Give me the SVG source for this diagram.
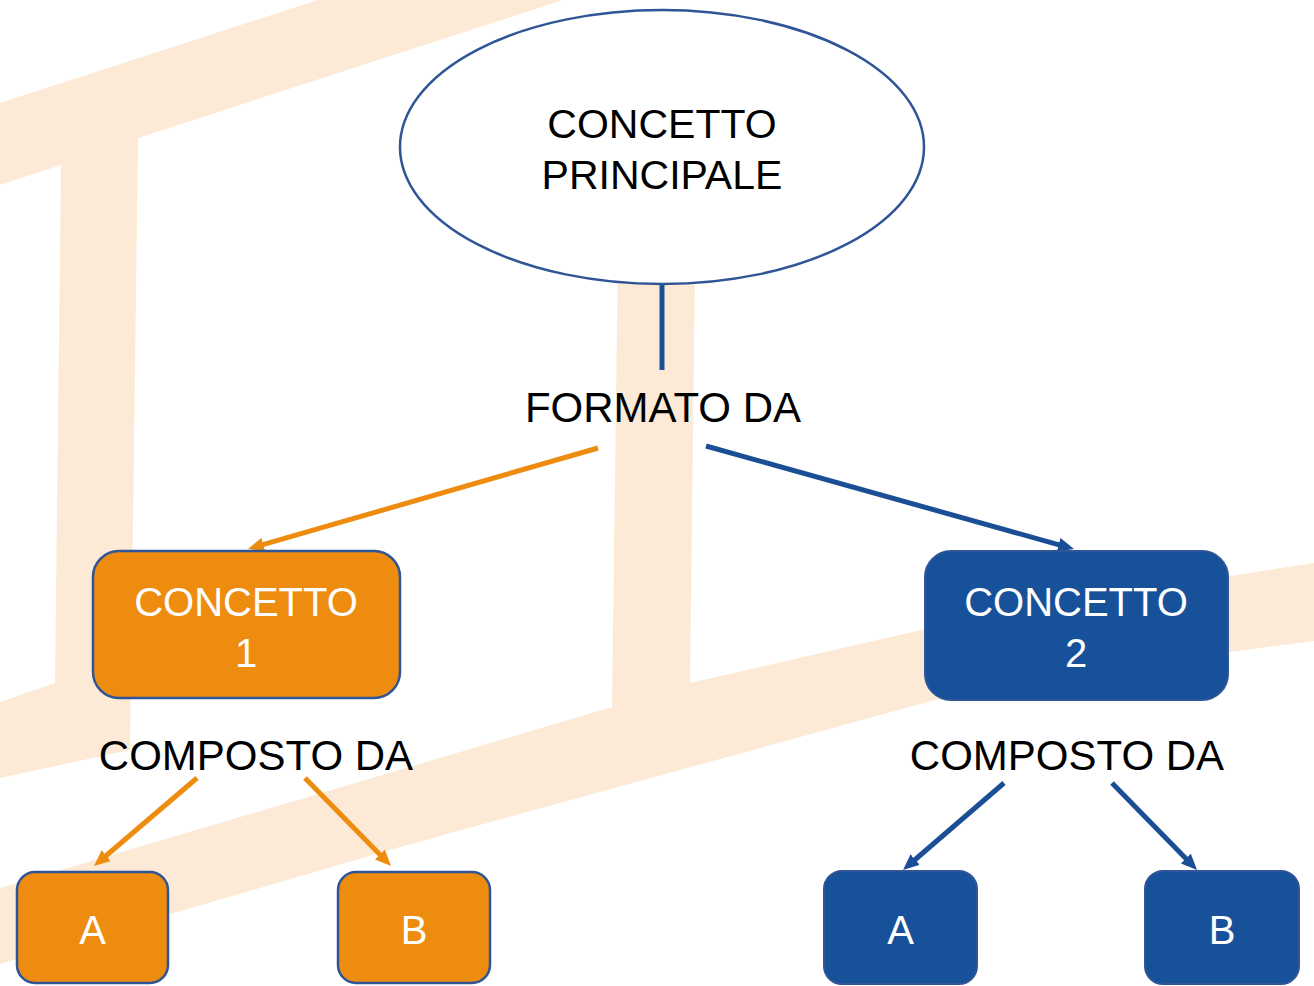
<svg xmlns="http://www.w3.org/2000/svg" width="1314" height="986" viewBox="0 0 1314 986">
  <style>
    .bg { fill: #FCEAD6; }
    .txt { font-family: "Liberation Sans", Arial, sans-serif; text-anchor: middle; }
    .dark { fill: #000000; font-size: 41px; }
    .light { fill: #FFFFFF; font-size: 40px; }
    .lbl { fill: #000000; font-size: 42px; }
    .orangeBox { fill: #EE8C10; stroke: #2F5597; stroke-width: 2.5; }
    .blueBox { fill: #17519A; stroke: #2F5597; stroke-width: 2; }
    .lineO { stroke: #EE8C10; stroke-width: 5; fill: none; }
    .lineB { stroke: #1A4F96; stroke-width: 5; fill: none; }
  </style>
  <defs>
    <marker id="arrO" markerUnits="userSpaceOnUse" markerWidth="16" markerHeight="14" refX="6" refY="7" orient="auto">
      <path d="M0,0 L16,7 L0,14 z" fill="#EE8C10"/>
    </marker>
    <marker id="arrB" markerUnits="userSpaceOnUse" markerWidth="16" markerHeight="14" refX="6" refY="7" orient="auto">
      <path d="M0,0 L16,7 L0,14 z" fill="#1A4F96"/>
    </marker>
  </defs>

  <rect x="0" y="0" width="1314" height="986" fill="#FFFFFF"/>

  <g id="background">
    <polygon class="bg" points="0,103 318,0 563,0 138,138 130,750 0,778 0,702 55,683 61,165 0,185"/>
    <polygon class="bg" points="620,100 697,100 690,683 1000,612 1314,563 1314,641 1000,682 400,847 0,964 0,888 612,707"/>
  </g>

  <g id="connectors">
    <line class="lineB" x1="662" y1="284" x2="662" y2="370"/>
    <line class="lineO" x1="598" y1="448" x2="257.6" y2="546.2" marker-end="url(#arrO)"/>
    <line class="lineB" x1="706" y1="446" x2="1064.4" y2="546.3" marker-end="url(#arrB)"/>
    <line class="lineO" x1="197" y1="778" x2="101.6" y2="859.5" marker-end="url(#arrO)"/>
    <line class="lineO" x1="305" y1="778" x2="384.0" y2="858.8" marker-end="url(#arrO)"/>
    <line class="lineB" x1="1004" y1="783" x2="910.6" y2="863.5" marker-end="url(#arrB)"/>
    <line class="lineB" x1="1112" y1="783" x2="1190.0" y2="862.8" marker-end="url(#arrB)"/>
  </g>

  <g id="concetto-principale">
    <ellipse cx="662" cy="147" rx="262" ry="137" fill="#FFFFFF" stroke="#2F5597" stroke-width="2.5"/>
    <text class="txt dark" x="662" y="138">CONCETTO</text>
    <text class="txt dark" x="662" y="189">PRINCIPALE</text>
  </g>

  <g id="label-formato">
    <text class="txt lbl" x="663" y="422">FORMATO DA</text>
  </g>

  <g id="concetto-1">
    <rect class="orangeBox" x="93" y="551" width="307" height="147" rx="26"/>
    <text class="txt light" x="246" y="616">CONCETTO</text>
    <text class="txt light" x="246" y="667">1</text>
  </g>

  <g id="concetto-2">
    <rect class="blueBox" x="925" y="551" width="303" height="149" rx="26"/>
    <text class="txt light" x="1076" y="616">CONCETTO</text>
    <text class="txt light" x="1076" y="667">2</text>
  </g>

  <g id="label-composto-1">
    <text class="txt lbl" x="256" y="770">COMPOSTO DA</text>
  </g>

  <g id="label-composto-2">
    <text class="txt lbl" x="1067" y="770">COMPOSTO DA</text>
  </g>

  <g id="a1">
    <rect class="orangeBox" x="17" y="872" width="151" height="111" rx="18"/>
    <text class="txt light" x="92.5" y="944">A</text>
  </g>

  <g id="b1">
    <rect class="orangeBox" x="338" y="872" width="152" height="111" rx="18"/>
    <text class="txt light" x="414" y="944">B</text>
  </g>

  <g id="a2">
    <rect class="blueBox" x="824" y="871" width="153" height="113" rx="18"/>
    <text class="txt light" x="900.5" y="944">A</text>
  </g>

  <g id="b2">
    <rect class="blueBox" x="1145" y="871" width="154" height="113" rx="18"/>
    <text class="txt light" x="1222" y="944">B</text>
  </g>
</svg>
